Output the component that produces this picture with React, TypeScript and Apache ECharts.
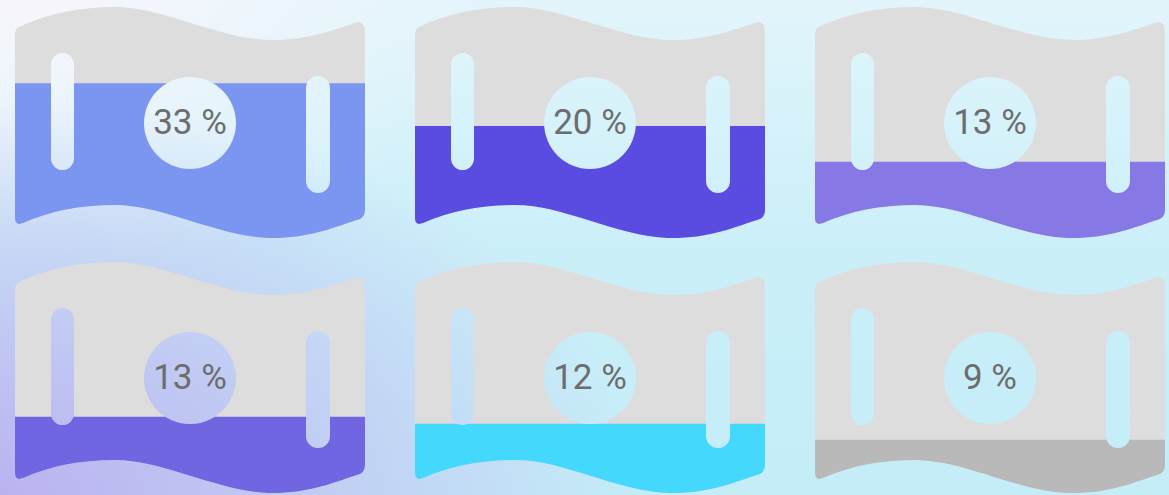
import React, { useEffect, useRef } from "react";
import * as echarts from "echarts";

// ---- data ----
const categories = ["Item 1", "Item 2", "Item 3", "Item 4", "Item 5", "Item 6"];
const shares = [33, 20, 13, 13, 12, 9]; // label values (%)
const fillLevels = [67, 48.5, 33, 33, 30, 23]; // fill height (% of flag)
const fillColors = ["#7a96f1", "#5a4ce0", "#8679e6", "#7066e2", "#45d8fd", "#b9b9b9"];
const fullLevel = 100;

// ---- flag shape (with holes) ----
const FLAG =
  "M6 19 C35 6 65 0 100 0 C150 0 205 33 258 33 C295 33 320 22 340 16 Q350 13 350 25 " +
  "L350 203 Q350 211 342 213 C320 220 295 231 258 231 C205 231 150 198 100 198 " +
  "C65 198 35 204 8 216 Q0 219 0 211 L0 27 Q0 21 6 19 Z " +
  "M36 57.5 L36 151.5 A11.5 11.5 0 0 0 59 151.5 L59 57.5 A11.5 11.5 0 0 0 36 57.5 Z " +
  "M291 81 L291 174 A12 12 0 0 0 315 174 L315 81 A12 12 0 0 0 291 81 Z " +
  "M221 116 A46 46 0 0 0 129 116 A46 46 0 0 0 221 116 Z";

const FLAG_W = 350;
const FLAG_H = 231;
const colLefts = [15, 415, 815];
const rowTops = [7, 262];

export default function App() {
  const ref = useRef<HTMLDivElement>(null);
  useEffect(() => {
    if (!ref.current) return;
    const chart = echarts.init(ref.current, null, { renderer: "svg" });
    const grids: any[] = [];
    const xAxis: any[] = [];
    const yAxis: any[] = [];
    const series: any[] = [];
    categories.forEach((cat, i) => {
      const r = Math.floor(i / 3);
      const c = i % 3;
      grids.push({ left: colLefts[c], top: rowTops[r], width: FLAG_W, height: FLAG_H });
      xAxis.push({ type: "category", gridIndex: i, data: [cat], show: false });
      yAxis.push({ type: "value", gridIndex: i, min: 0, max: fullLevel, show: false });
      series.push({
        type: "pictorialBar",
        xAxisIndex: i,
        yAxisIndex: i,
        symbol: "path://" + FLAG,
        symbolSize: [FLAG_W, "100%"],
        symbolBoundingData: fullLevel,
        data: [fullLevel],
        itemStyle: { color: "#dddddd" },
        z: 2,
        silent: true,
        label: {
          show: true,
          position: "inside",
          formatter: () => shares[i] + " %",
          fontFamily: "Roboto",
          fontSize: 35,
          color: "#6d6d6d",
        },
      });
      series.push({
        type: "pictorialBar",
        xAxisIndex: i,
        yAxisIndex: i,
        symbol: "path://" + FLAG,
        symbolSize: [FLAG_W, "100%"],
        symbolBoundingData: fullLevel,
        symbolClip: true,
        data: [{ value: fillLevels[i], itemStyle: { color: fillColors[i] } }],
        z: 3,
        silent: true,
      });
    });
    chart.setOption({
      animation: false,
      backgroundColor: "transparent",
      grid: grids,
      xAxis,
      yAxis,
      series,
    });
    return () => chart.dispose();
  }, []);
  return (
    <div
      style={{
        position: "absolute",
        left: 0,
        top: 0,
        width: 1169,
        height: 495,
        overflow: "hidden",
        background:
          "radial-gradient(ellipse 55% 80% at 0% 100%, rgba(186,178,240,1) 0%, rgba(190,184,240,0.7) 40%, rgba(190,184,240,0) 100%)," +
          "radial-gradient(ellipse 40% 55% at 3% 0%, rgba(247,246,252,1) 0%, rgba(247,246,252,0) 100%)," +
          "linear-gradient(180deg, #e2f5fb 0%, #cbeff9 50%, #c4edf8 100%)",
      }}
    >
      <div ref={ref} style={{ width: 1169, height: 495 }} />
    </div>
  );
}
